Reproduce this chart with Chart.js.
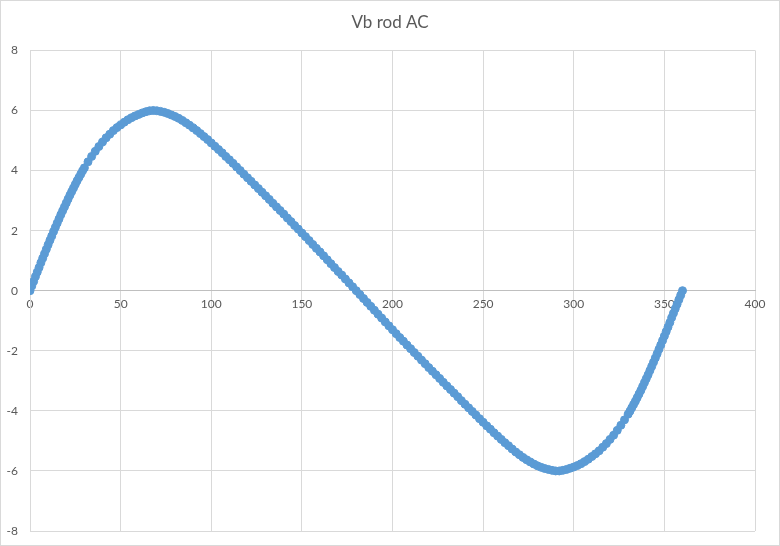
<!DOCTYPE html>
<html>
<head>
<meta charset="utf-8">
<title>Vb rod AC</title>
<script src="https://cdn.jsdelivr.net/npm/chart.js@4/dist/chart.umd.min.js"></script>
<style>
  html, body { margin: 0; padding: 0; background: #fff; }
  canvas { display: block; }
</style>
</head>
<body>
<canvas id="result" width="780" height="546"></canvas>
<script>
// crank angle (deg)
const angles = [
  0, 1, 2, 3, 4, 5, 6, 7, 8, 9, 10, 11, 12, 13, 14, 15, 16, 17, 18, 19, 20,
  21, 22, 23, 24, 25, 26, 27, 28, 29, 30,
  32, 34, 36, 38, 40, 42, 44, 46, 48, 50, 52, 54, 56, 58, 60, 62, 64, 66, 68, 70,
  72, 74, 76, 78, 80, 82, 84, 86, 88, 90, 92, 94, 96, 98, 100, 102, 104, 106, 108, 110,
  112, 114, 116, 118, 120, 122, 124, 126, 128, 130, 132, 134, 136, 138, 140, 142, 144, 146, 148, 150,
  152, 154, 156, 158, 160, 162, 164, 166, 168, 170, 172, 174, 176, 178, 180,
  182, 184, 186, 188, 190, 192, 194, 196, 198, 200, 202, 204, 206, 208, 210,
  212, 214, 216, 218, 220, 222, 224, 226, 228, 230, 232, 234, 236, 238, 240,
  242, 244, 246, 248, 250, 252, 254, 256, 258, 260, 262, 264, 266, 268, 270,
  272, 274, 276, 278, 280, 282, 284, 286, 288, 290, 292, 294, 296, 298, 300,
  302, 304, 306, 308, 310, 312, 314, 316, 318, 320, 322, 324, 326, 328,
  330, 331, 332, 333, 334, 335, 336, 337, 338, 339, 340, 341, 342, 343, 344, 345,
  346, 347, 348, 349, 350, 351, 352, 353, 354, 355, 356, 357, 358, 359, 360
];

// Vb of rod AC at each angle
const vbValues = [
  0.00, 0.16, 0.31, 0.47, 0.62, 0.77, 0.93, 1.08, 1.23, 1.38, 1.53, 1.68, 1.82, 1.97, 2.11, 2.25,
  2.39, 2.53, 2.66, 2.79, 2.92, 3.05, 3.18, 3.30, 3.42, 3.54, 3.66, 3.77, 3.88, 3.99, 4.09,
  4.29, 4.47, 4.64, 4.80, 4.95, 5.09, 5.21, 5.33, 5.43, 5.52, 5.61, 5.69, 5.76, 5.82, 5.87,
  5.92, 5.96, 5.99, 6.00, 5.99,
  5.97, 5.94, 5.90, 5.85, 5.80, 5.74, 5.67, 5.59, 5.51, 5.42, 5.33, 5.23, 5.13, 5.03, 4.92,
  4.81, 4.70, 4.59, 4.47, 4.36,
  4.24, 4.12, 4.00, 3.88, 3.76, 3.64, 3.52, 3.40, 3.28, 3.16, 3.04, 2.91, 2.79, 2.67, 2.55,
  2.42, 2.30, 2.17, 2.05, 1.92,
  1.80, 1.67, 1.54, 1.41, 1.29, 1.16, 1.03, 0.90, 0.77, 0.64, 0.52, 0.39, 0.26, 0.13, 0.00,
  -0.13, -0.26, -0.39, -0.52, -0.65, -0.78, -0.91, -1.04, -1.17, -1.30, -1.43, -1.56, -1.68, -1.81, -1.93,
  -2.06, -2.18, -2.31, -2.43, -2.56, -2.68, -2.80, -2.92, -3.05, -3.17, -3.29, -3.41, -3.53, -3.66, -3.78,
  -3.90, -4.02, -4.14, -4.26, -4.38, -4.50, -4.61, -4.73, -4.84, -4.95, -5.06, -5.16, -5.27, -5.37, -5.46,
  -5.55, -5.63, -5.70, -5.77, -5.83, -5.88, -5.92, -5.95, -5.98, -6.00, -6.00, -5.98, -5.95, -5.91, -5.87,
  -5.82, -5.76, -5.69, -5.61, -5.52, -5.43, -5.33, -5.21, -5.09, -4.95, -4.81, -4.65, -4.48, -4.30,
  -4.11, -4.01, -3.90, -3.79, -3.68, -3.56, -3.44, -3.32, -3.19, -3.06, -2.93, -2.80, -2.66, -2.52, -2.38, -2.24,
  -2.10, -1.95, -1.81, -1.66, -1.51, -1.36, -1.21, -1.06, -0.90, -0.75, -0.60, -0.45, -0.30, -0.15, 0.00
];

const xTicks = [0, 50, 100, 150, 200, 250, 300, 350, 400];
const yTicks = [-8, -6, -4, -2, 0, 2, 4, 6, 8];

const fontFamily = 'Lato, "Open Sans", sans-serif';
const textColor = '#595959';
const gridColor = '#d9d9d9';

// white page + thin grey frame like the spreadsheet chart
const chartFrame = {
  id: 'chartFrame',
  beforeDraw(chart) {
    const ctx = chart.ctx;
    ctx.save();
    ctx.fillStyle = '#ffffff';
    ctx.fillRect(0, 0, chart.width, chart.height);
    ctx.restore();
  },
  afterDraw(chart) {
    const ctx = chart.ctx;
    ctx.save();
    ctx.strokeStyle = gridColor;
    ctx.lineWidth = 1;
    ctx.strokeRect(0.5, 0.5, chart.width - 1, chart.height - 1);
    ctx.restore();
  }
};

let data = {
  datasets: [{
    label: 'Vb rod AC',
    data: angles.map((a, i) => ({ x: a, y: vbValues[i] })),
    showLine: false,
    pointRadius: 4,
    pointBorderWidth: 1,
    pointBackgroundColor: '#5b9bd5',
    pointBorderColor: '#5b9bd5'
  }]
};

const config = {
  type: 'scatter',
  data: data,
  plugins: [chartFrame],
  options: {
    responsive: false,
    animation: false,
    layout: { padding: { left: 0, right: 0, top: 0, bottom: 15 } },
    plugins: {
      legend: { display: false },
      tooltip: { enabled: false },
      title: {
        display: true,
        text: 'Vb rod AC',
        color: textColor,
        font: { family: fontFamily, size: 17, weight: 'normal' },
        padding: { top: 12, bottom: 18 }
      }
    },
    scales: {
      x: {
        type: 'linear',
        min: 0,
        max: 400,
        position: { y: 0 },
        afterBuildTicks: (scale) => { scale.ticks = xTicks.map(v => ({ value: v })); },
        afterFit: (scale) => { scale.height = 0; },
        grid: { color: gridColor, drawTicks: false },
        border: { color: '#bfbfbf' },
        ticks: { color: textColor, font: { family: fontFamily, size: 12 }, padding: 6, maxRotation: 0 }
      },
      y: {
        type: 'linear',
        min: -8,
        max: 8,
        afterBuildTicks: (scale) => { scale.ticks = yTicks.map(v => ({ value: v })); },
        afterFit: (scale) => {
          scale.width = 30;
          // the label gap is horizontal only, don't let it eat the bottom margin
          scale.paddingTop = 8;
          scale.paddingBottom = 8;
        },
        grid: { color: gridColor, drawTicks: false },
        border: { color: gridColor },
        ticks: { color: textColor, font: { family: fontFamily, size: 12 }, padding: 12 }
      },
      // empty right margin, keeps the title centred on the whole canvas
      yRight: {
        type: 'linear',
        position: 'right',
        min: -8,
        max: 8,
        afterFit: (scale) => { scale.width = 25; },
        grid: { display: false, drawTicks: false },
        border: { display: false },
        ticks: { display: false }
      }
    }
  }
};

window.addEventListener('DOMContentLoaded', () => {
  const myChart = new Chart(document.getElementById('result'), config);
});
</script>
</body>
</html>
